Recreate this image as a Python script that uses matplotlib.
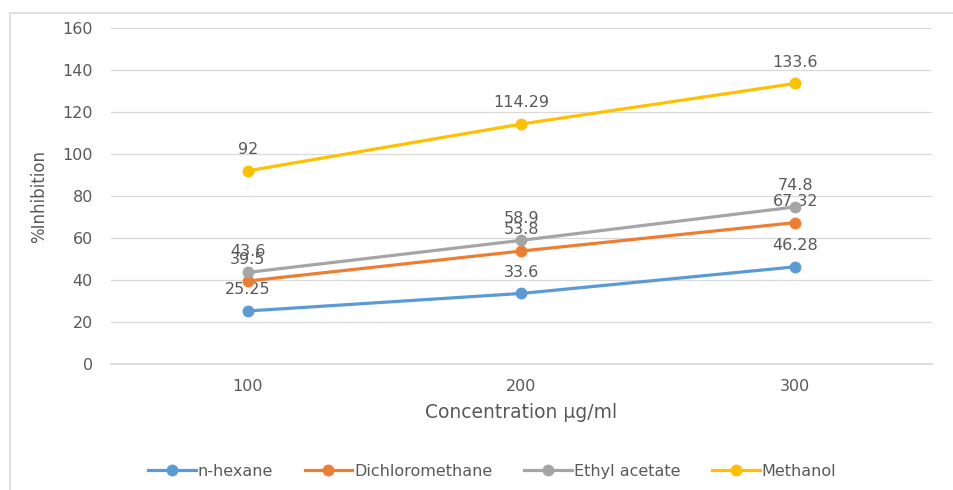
import matplotlib.pyplot as plt
from matplotlib.patches import Rectangle

# data
concentrations = ['100', '200', '300']
n_hexane = [25.25, 33.6, 46.28]
dichloromethane = [39.5, 53.8, 67.32]
ethyl_acetate = [43.6, 58.9, 74.8]
methanol = [92, 114.29, 133.6]
series_names = ['n-hexane', 'Dichloromethane', 'Ethyl acetate', 'Methanol']
series_colors = ['#5B9BD5', '#ED7D31', '#A5A5A5', '#FFC000']
yticks = [0, 20, 40, 60, 80, 100, 120, 140, 160]

plt.rcParams['font.family'] = ['DejaVu Sans']
txt = '#595959'

fig = plt.figure(figsize=(9.54, 4.9), dpi=100)
fig.patches.append(Rectangle((10 / 954, -0.05), 1.2, 1.05 - 13 / 490, transform=fig.transFigure,
                             fill=False, edgecolor='#D9D9D9', linewidth=1.2))
ax = fig.add_axes([111 / 954, 1 - 364 / 490, (932 - 111) / 954, (364 - 28) / 490])

x = range(len(concentrations))
all_series = [n_hexane, dichloromethane, ethyl_acetate, methanol]
for vals, name, col in zip(all_series, series_names, series_colors):
    ax.plot(x, vals, color=col, lw=2.3, marker='o', ms=7.5, label=name, zorder=3)
    for xi, v in zip(x, vals):
        ax.annotate(f'{v:g}', (xi, v), xytext=(0, 10), textcoords='offset points',
                    ha='center', va='bottom', fontsize=11.5, color=txt)

ax.set_xlim(-0.5, 2.5)
ax.set_ylim(0, 160)
ax.set_yticks(yticks)
ax.set_xticks(list(x))
ax.set_xticklabels(concentrations)
ax.grid(axis='y', color='#D9D9D9', lw=0.9)
ax.axhline(0, color='#D9D9D9', lw=1.2, clip_on=False, zorder=1)
ax.set_axisbelow(True)
for s in ax.spines.values():
    s.set_visible(False)
ax.tick_params(length=0, labelsize=11.5, labelcolor=txt, pad=13)
ax.tick_params(axis='x', pad=11)
ax.set_xlabel('Concentration µg/ml', fontsize=13.5, color=txt, labelpad=6)
ax.set_ylabel('%Inhibition', fontsize=12, color=txt, labelpad=10)

ax.legend(loc='center', bbox_to_anchor=((492 - 111) / (932 - 111), (471 - 364) / -(364 - 28)),
          ncol=4, frameon=False, fontsize=11.5, labelcolor=txt, handlelength=3.0,
          handletextpad=0.1, columnspacing=2.0)

fig.savefig('out.png', dpi=100)
